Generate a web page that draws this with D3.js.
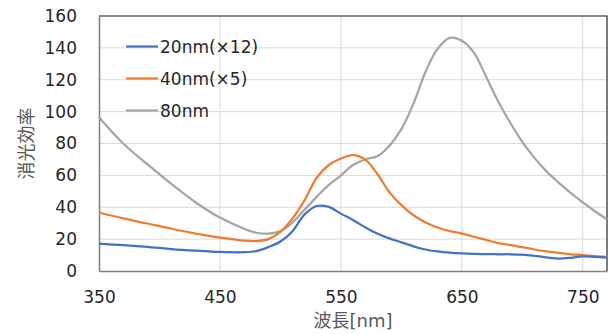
<!DOCTYPE html>
<html>
<head>
<meta charset="utf-8">
<script src="https://cdn.jsdelivr.net/npm/d3@7"></script>
<style>
  body { margin: 0; background: #fff; }
  text { font-family: "DejaVu Sans", "Noto Sans CJK JP", sans-serif; }
</style>
</head>
<body>
<div id="chart"></div>
<script>
// Wavelength axis (nm)
const wavelength = [350, 370, 390, 410, 430, 450, 470, 480, 490, 500, 510, 520, 530, 540, 550,
  560, 570, 580, 590, 600, 610, 620, 630, 640, 650, 660, 670, 680, 690, 700, 710, 720, 730,
  740, 750, 760, 770];

// Extinction efficiency of each particle size
const nm20 = [17.2, 16.2, 15.1, 13.8, 12.8, 12, 11.8, 12.5, 15, 18.5, 25, 35.5, 40.8, 40.2, 36,
  32, 27.5, 23.5, 20.5, 18, 15.5, 13.5, 12.3, 11.5, 11, 10.7, 10.6, 10.5, 10.5, 10.2, 9.5, 8.6, 7.8,
  8.3, 9.2, 8.8, 8.4];
const nm40 = [36.7, 33, 29.8, 26.5, 23.5, 21, 19, 18.8, 20, 24.5, 33, 44.5, 58.5, 66.5, 70.6,
  72.7, 70, 61, 49.5, 41.3, 35, 30.5, 27.3, 25, 23.5, 21.5, 19.5, 17.5, 16.3, 15, 13.5, 12.3, 11.3,
  10.5, 10, 9.3, 8.8];
const nm80 = [96.5, 80, 67, 54.5, 43, 33.5, 26.5, 24, 23.5, 25, 30.5, 38.5, 46.5, 54, 60,
  66.5, 70, 72, 78.5, 89, 105, 125, 139.5, 146.3, 144.5, 137, 122, 106.5, 93, 81, 71, 62.5, 55.5,
  49, 43, 37.5, 32.5];

const seriesNames = ["20nm(×12)", "40nm(×5)", "80nm"];
const seriesColors = ["#4472C4", "#ED7D31", "#A5A5A5"];
const xTicks = [350, 450, 550, 650, 750];
const yTicks = [0, 20, 40, 60, 80, 100, 120, 140, 160];

const svgWidth = 611;
const svgHeight = 334;
const margin = { top: 16, right: 4, bottom: 63, left: 99 };
const width = svgWidth - margin.left - margin.right;
const height = svgHeight - margin.top - margin.bottom;

const svg = d3.select("#chart")
  .append("svg")
  .attr("width", svgWidth)
  .attr("height", svgHeight);

const chartGroup = svg.append("g")
  .attr("transform", `translate(${margin.left}, ${margin.top})`);

const xScale = d3.scaleLinear().domain([350, 770]).range([0, width]);
const yScale = d3.scaleLinear().domain([0, 160]).range([height, 0]);

// Gridlines
chartGroup.append("g")
  .selectAll("line")
  .data(yTicks.slice(1))
  .join("line")
  .attr("x1", 0).attr("x2", width)
  .attr("y1", d => yScale(d)).attr("y2", d => yScale(d))
  .attr("stroke", "#d9d9d9").attr("stroke-width", 1);

chartGroup.append("g")
  .selectAll("line")
  .data(xTicks.slice(1))
  .join("line")
  .attr("x1", d => xScale(d)).attr("x2", d => xScale(d))
  .attr("y1", 0).attr("y2", height)
  .attr("stroke", "#d9d9d9").attr("stroke-width", 1);

// Frame: top and right dark, left and bottom axis gray
chartGroup.append("path")
  .attr("d", `M0,0H${width}V${height}`)
  .attr("fill", "none").attr("stroke", "#262626").attr("stroke-width", 1.2);

// Axes
const bottomAxis = d3.axisBottom(xScale).tickValues(xTicks).tickSize(0).tickPadding(20);
const leftAxis = d3.axisLeft(yScale).tickValues(yTicks).tickSize(0).tickPadding(22);

const xAxisG = chartGroup.append("g")
  .attr("transform", `translate(0, ${height})`)
  .call(bottomAxis);
const yAxisG = chartGroup.append("g").call(leftAxis);

[xAxisG, yAxisG].forEach(g => {
  g.select(".domain").attr("stroke", "#7f7f7f").attr("stroke-width", 1.5);
  g.selectAll("text").attr("font-size", 17).attr("fill", "#262626")
    .style("font-family", '"DejaVu Sans", sans-serif');
});

// Lines
const allSeries = [nm20, nm40, nm80];
const line = d3.line()
  .x((d, i) => xScale(wavelength[i]))
  .y(d => yScale(d))
  .curve(d3.curveCatmullRom.alpha(0.5));

chartGroup.append("g")
  .selectAll("path")
  .data(allSeries.slice().reverse())
  .join("path")
  .attr("d", d => line(d))
  .attr("fill", "none")
  .attr("stroke", (d, i) => seriesColors[seriesColors.length - 1 - i])
  .attr("stroke-width", 2.25)
  .attr("stroke-linejoin", "round");

// Legend
const legend = svg.append("g")
  .selectAll("g")
  .data(seriesNames)
  .join("g")
  .attr("transform", (d, i) => `translate(126, ${46.5 + i * 32})`);

legend.append("line")
  .attr("x1", 0).attr("x2", 32)
  .attr("stroke", (d, i) => seriesColors[i])
  .attr("stroke-width", 2.25);

legend.append("text")
  .attr("x", 34)
  .attr("dy", "0.36em")
  .attr("font-size", 17)
  .attr("fill", "#262626")
  .text(d => d);

// Axis titles
svg.append("text")
  .attr("transform", `translate(27, ${margin.top + height / 2}) rotate(-90)`)
  .attr("text-anchor", "middle")
  .attr("dy", "0.35em")
  .attr("font-size", 18)
  .attr("fill", "#595959")
  .text("消光効率");

svg.append("text")
  .attr("x", margin.left + width / 2)
  .attr("y", 327)
  .attr("text-anchor", "middle")
  .attr("font-size", 18)
  .attr("fill", "#595959")
  .text("波長[nm]");
</script>
</body>
</html>
